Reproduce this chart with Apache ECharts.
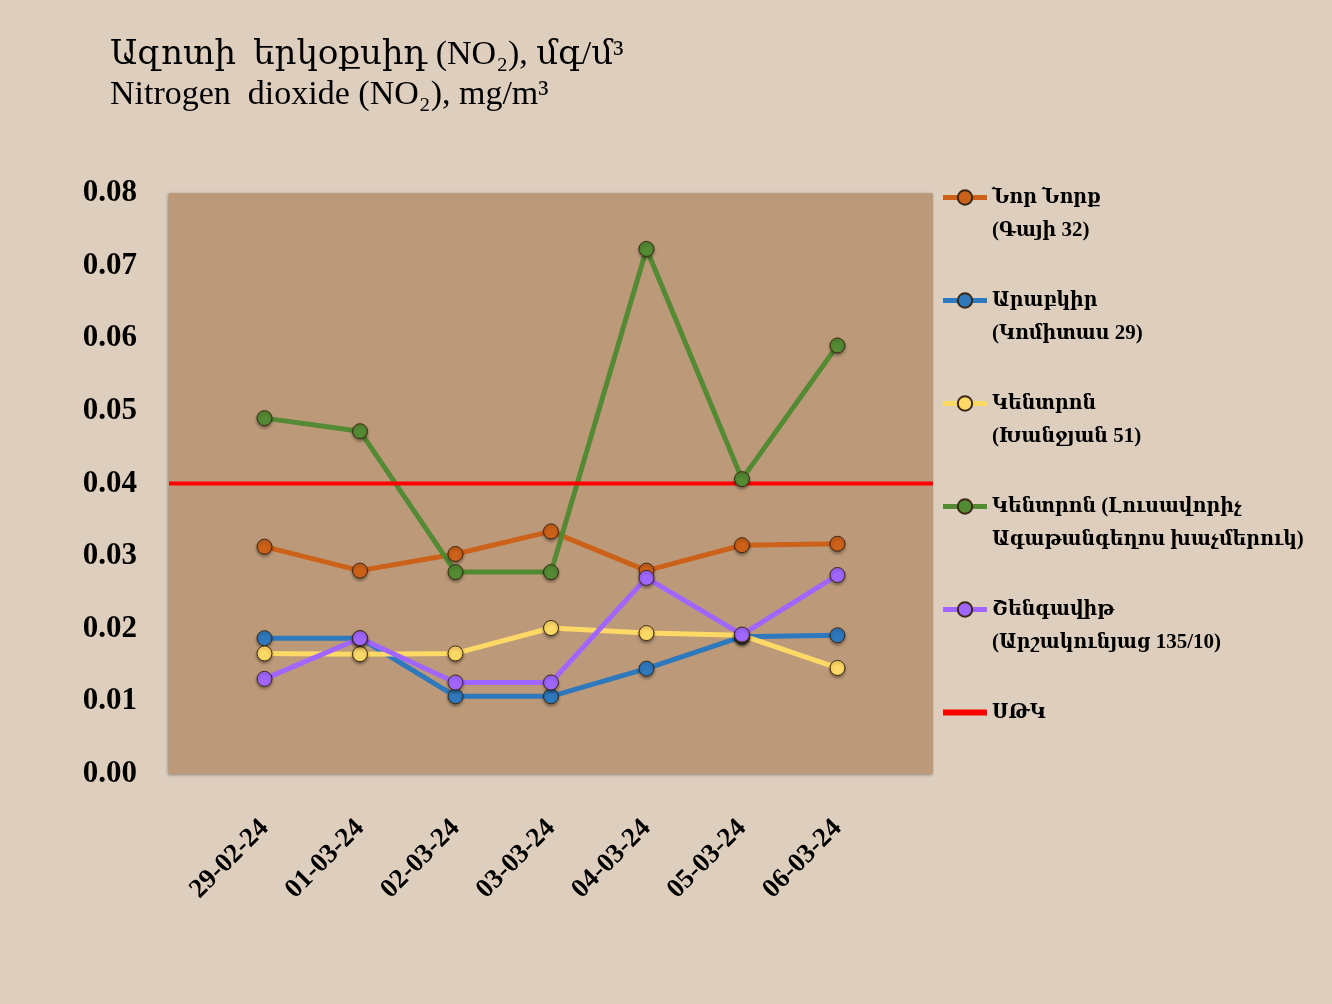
<!DOCTYPE html>
<html>
<head>
<meta charset="utf-8">
<script src="https://cdn.jsdelivr.net/npm/echarts@6/dist/echarts.min.js"></script>
<style>
  html, body { margin: 0; padding: 0; background: #DDCEBE; }
  #chart { width: 1332px; height: 1004px; }
</style>
</head>
<body>
<div id="chart"></div>
<script>
const dates = ['29-02-24', '01-03-24', '02-03-24', '03-03-24', '04-03-24', '05-03-24', '06-03-24'];
const norNork = [0.0313, 0.0280, 0.0303, 0.0334, 0.0280, 0.0315, 0.0317];
const arabkir = [0.0187, 0.0187, 0.0107, 0.0107, 0.0145, 0.0189, 0.0191];
const kentronKhanjyan = [0.0166, 0.0165, 0.0166, 0.0201, 0.0194, 0.0191, 0.0146];
const kentronLusavorich = [0.0490, 0.0472, 0.0278, 0.0278, 0.0723, 0.0406, 0.0590];
const shengavit = [0.0131, 0.0187, 0.0126, 0.0126, 0.0270, 0.0192, 0.0274];
const limit = 0.04;
const yTicks = [0, 0.01, 0.02, 0.03, 0.04, 0.05, 0.06, 0.07, 0.08];

const names = [
  'Նոր Նորք\n(Գայի 32)',
  'Արաբկիր\n(Կոմիտաս 29)',
  'Կենտրոն\n(Խանջյան 51)',
  'Կենտրոն (Լուսավորիչ\nԱգաթանգեղոս խաչմերուկ)',
  'Շենգավիթ\n(Արշակունյաց 135/10)',
  'ՍԹԿ'
];
const colors = ['#CC6119', '#2E78BD', '#FFD966', '#548A33', '#A066FF', '#FF0000'];

const font = "'Liberation Serif', 'DejaVu Serif', serif";
const legendFont = "'Liberation Serif', 'DejaVu Serif Condensed', 'DejaVu Serif', serif";

function pairs(arr) {
  return arr.map((v, i) => [i, v]);
}

function lineSeries(name, arr, color) {
  return {
    name: name,
    type: 'line',
    data: pairs(arr),
    symbol: 'circle',
    symbolSize: 15,
    lineStyle: { color: color, width: 5 },
    itemStyle: {
      color: color,
      borderColor: '#3a2814',
      borderWidth: 1,
      shadowColor: 'rgba(0,0,0,0.35)',
      shadowBlur: 3,
      shadowOffsetY: 2
    },
    emphasis: { disabled: true }
  };
}

const chart = echarts.init(document.getElementById('chart'));

const option = {
  animation: false,
  backgroundColor: '#DDCEBE',
  title: {
    left: 105,
    top: 33,
    itemGap: 6,
    text: 'Ազոտի  երկօքսիդ (NO₂), մգ/մ³',
    subtext: 'Nitrogen  dioxide (NO₂), mg/m³',
    textStyle: { fontFamily: font, fontSize: 34, fontWeight: 'normal', color: '#000' },
    subtextStyle: { fontFamily: font, fontSize: 34, color: '#000' }
  },
  legend: {
    orient: 'vertical',
    left: 940,
    top: 148,
    padding: 0,
    itemWidth: 44,
    itemHeight: 18,
    itemGap: 4,
    selectedMode: false,
    lineStyle: { width: 5 },
    textStyle: {
      fontFamily: legendFont,
      fontSize: 21,
      fontWeight: 'bold',
      color: '#000',
      lineHeight: 33
    },
    // blank line first so the first text line sits level with the icon
    formatter: (name) => '\n' + name + (name.indexOf('\n') < 0 ? '\n' : ''),
    data: names.map((n, i) => (i === names.length - 1
      ? { name: n, itemStyle: { opacity: 0 }, lineStyle: { width: 6 } }
      : { name: n }))
  },
  grid: {
    left: 169,
    right: 399,
    top: 193,
    bottom: 230,
    show: true,
    backgroundColor: '#BC9A79',
    borderWidth: 0,
    shadowColor: 'rgba(0,0,0,0.35)',
    shadowBlur: 3,
    shadowOffsetX: -1,
    shadowOffsetY: 1
  },
  xAxis: {
    type: 'value',
    min: -1,
    max: dates.length,
    interval: 1,
    axisLine: { show: false },
    axisTick: { show: false },
    splitLine: { show: false },
    axisLabel: {
      rotate: 45,
      margin: 50,
      fontFamily: font,
      fontSize: 27,
      fontWeight: 'bold',
      color: '#000',
      formatter: (v) => (dates[v] !== undefined ? dates[v] : '')
    }
  },
  yAxis: {
    type: 'value',
    min: yTicks[0],
    max: yTicks[yTicks.length - 1],
    interval: 0.01,
    axisLine: { show: false },
    axisTick: { show: false },
    splitLine: { show: false },
    axisLabel: {
      margin: 32,
      fontFamily: font,
      fontSize: 31,
      fontWeight: 'bold',
      color: '#000',
      formatter: (v) => v.toFixed(2)
    }
  },
  series: [
    lineSeries(names[0], norNork, colors[0]),
    lineSeries(names[1], arabkir, colors[1]),
    lineSeries(names[2], kentronKhanjyan, colors[2]),
    lineSeries(names[3], kentronLusavorich, colors[3]),
    lineSeries(names[4], shengavit, colors[4]),
    {
      name: names[5],
      type: 'line',
      data: [[-1, limit], [dates.length, limit]],
      symbol: 'none',
      lineStyle: { color: colors[5], width: 4 },
      itemStyle: { color: colors[5] },
      emphasis: { disabled: true }
    }
  ]
};

chart.setOption(option);
</script>
</body>
</html>
